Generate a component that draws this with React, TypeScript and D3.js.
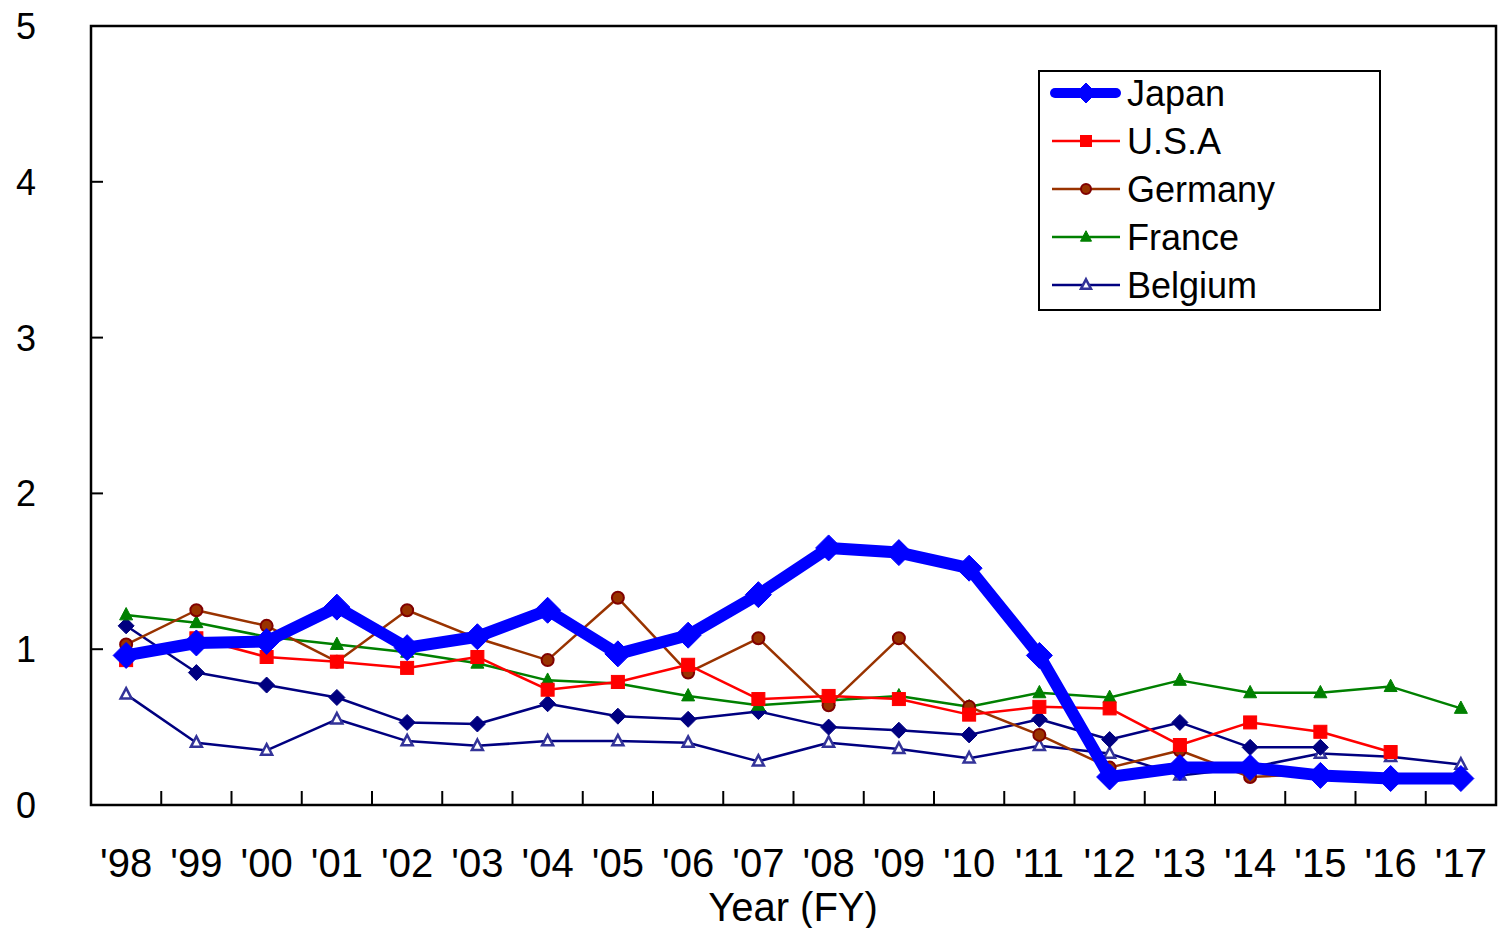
import React from "react";
import * as d3 from "d3";

const years = ["'98","'99","'00","'01","'02","'03","'04","'05","'06","'07","'08","'09","'10","'11","'12","'13","'14","'15","'16","'17"];
const yTicks = [0, 1, 2, 3, 4, 5];

const japan = [0.96, 1.04, 1.05, 1.27, 1.01, 1.08, 1.25, 0.97, 1.09, 1.35, 1.65, 1.62, 1.52, 0.96, 0.18, 0.24, 0.24, 0.19, 0.17, 0.17];
const usa = [0.93, 1.07, 0.95, 0.92, 0.88, 0.95, 0.74, 0.79, 0.9, 0.68, 0.7, 0.68, 0.58, 0.63, 0.62, 0.385, 0.53, 0.47, 0.34, null];
const germany = [1.03, 1.25, 1.15, 0.92, 1.25, 1.07, 0.93, 1.33, 0.85, 1.07, 0.64, 1.07, 0.63, 0.45, 0.24, 0.35, 0.18, 0.2, null, null];
const france = [1.22, 1.17, 1.08, 1.03, 0.98, 0.91, 0.8, 0.78, 0.7, 0.64, 0.67, 0.7, 0.63, 0.72, 0.69, 0.8, 0.72, 0.72, 0.76, 0.62];
const other = [1.15, 0.85, 0.77, 0.69, 0.53, 0.52, 0.65, 0.57, 0.55, 0.6, 0.5, 0.48, 0.45, 0.55, 0.42, 0.53, 0.37, 0.37, null, null];
const belgium = [0.71, 0.4, 0.35, 0.55, 0.41, 0.38, 0.41, 0.41, 0.4, 0.28, 0.4, 0.36, 0.3, 0.38, 0.33, 0.19, 0.24, 0.33, 0.31, 0.26];

type Marker = "diamond" | "square" | "circle" | "triangle" | "openTriangle";
interface Series { name: string | null; values: (number | null)[]; color: string; width: number; marker: Marker; size: number; fill: string; stroke: string; }

const series: Series[] = [
  { name: "Belgium", values: belgium, color: "#000080", width: 2.5, marker: "openTriangle", size: 11, fill: "#ffffff", stroke: "#333399" },
  { name: null, values: other, color: "#000080", width: 2.5, marker: "diamond", size: 8, fill: "#000080", stroke: "#000080" },
  { name: "France", values: france, color: "#008000", width: 2.5, marker: "triangle", size: 13, fill: "#008000", stroke: "#008000" },
  { name: "Germany", values: germany, color: "#993300", width: 2.5, marker: "circle", size: 6, fill: "#993300", stroke: "#800000" },
  { name: "U.S.A", values: usa, color: "#ff0000", width: 2.5, marker: "square", size: 13, fill: "#ff0000", stroke: "#ff0000" },
  { name: "Japan", values: japan, color: "#0000ff", width: 12, marker: "diamond", size: 13, fill: "#0000ff", stroke: "#0000ff" },
];

const legendOrder = ["Japan", "U.S.A", "Germany", "France", "Belgium"];

const W = 1498, H = 928;
const L = 91, R = 1496, T = 26, B = 805;

function markerEl(m: Marker, cx: number, cy: number, s: number, fill: string, stroke: string, key: string) {
  if (m === "diamond") {
    return <path key={key} d={`M${cx},${cy - s}L${cx + s},${cy}L${cx},${cy + s}L${cx - s},${cy}Z`} fill={fill} stroke={stroke} strokeWidth={1} />;
  }
  if (m === "square") {
    return <rect key={key} x={cx - s / 2} y={cy - s / 2} width={s} height={s} fill={fill} stroke={stroke} />;
  }
  if (m === "circle") {
    return <circle key={key} cx={cx} cy={cy} r={s} fill={fill} stroke={stroke} strokeWidth={2} />;
  }
  const h = s * 0.95;
  const d = `M${cx},${cy - h * 0.6}L${cx + s / 2},${cy + h * 0.4}L${cx - s / 2},${cy + h * 0.4}Z`;
  if (m === "openTriangle") {
    return <path key={key} d={d} fill={fill} stroke={stroke} strokeWidth={2.5} />;
  }
  return <path key={key} d={d} fill={fill} stroke={stroke} strokeWidth={1} />;
}

export default function App() {
  const x = d3.scaleBand<string>().domain(years).range([L, R]);
  const y = d3.scaleLinear().domain([0, 5]).range([B, T]);
  const cx = (i: number) => (x(years[i]) as number) + x.bandwidth() / 2;
  const font = "'Liberation Sans', Arial, sans-serif";

  const line = d3.line<number | null>()
    .defined((d) => d !== null)
    .x((_, i) => cx(i))
    .y((d) => y(d as number));

  const legendX = 1039, legendY = 71, legendW = 341, legendH = 239, rowH = 48;

  return (
    <svg width={W} height={H} style={{ position: "absolute", left: 0, top: 0 }} fontFamily={font}>
      <rect x={0} y={0} width={W} height={H} fill="#fff" />
      {yTicks.map((t) => (
        <g key={"yt" + t}>
          {t > 0 && t < 5 && <line x1={L} x2={L + 12} y1={y(t)} y2={y(t)} stroke="#000" strokeWidth={2} />}
          <text x={36} y={y(t)} dy="0.36em" textAnchor="end" fontSize={36}>{t}</text>
        </g>
      ))}
      {years.map((yr, i) =>
        i > 0 ? <line key={"xt" + i} x1={x(yr)} x2={x(yr)} y1={B} y2={B - 14} stroke="#000" strokeWidth={2} /> : null
      )}
      {years.map((yr, i) => (
        <text key={"xl" + i} x={cx(i)} y={877} textAnchor="middle" fontSize={40}>{yr}</text>
      ))}
      <text x={793} y={921} textAnchor="middle" fontSize={40}>Year (FY)</text>

      {series.map((s) => (
        <g key={"s" + (s.name ?? "other")}>
          <path d={line(s.values) || ""} fill="none" stroke={s.color} strokeWidth={s.width} strokeLinejoin="round" />
          {s.values.map((v, i) => v === null ? null : markerEl(s.marker, cx(i), y(v), s.size, s.fill, s.stroke, "m" + i))}
        </g>
      ))}

      <rect x={L} y={T} width={R - L} height={B - T} fill="none" stroke="#000" strokeWidth={2.5} />

      <rect x={legendX} y={legendY} width={legendW} height={legendH} fill="#fff" stroke="#000" strokeWidth={2} />
      {legendOrder.map((n, k) => {
        const s = series.find((q) => q.name === n)!;
        const ly = legendY + 22 + k * rowH;
        const isJ = n === "Japan";
        return (
          <g key={"lg" + n}>
            <line x1={isJ ? 1055 : 1052} x2={isJ ? 1116 : 1120} y1={ly} y2={ly} stroke={s.color} strokeWidth={isJ ? 10 : 2.5} strokeLinecap={isJ ? "round" : "butt"} />
            {markerEl(s.marker, 1086, ly, isJ ? 10 : s.marker === "circle" ? 5 : s.marker === "openTriangle" ? 10 : 11, s.fill, s.stroke, "lm" + n)}
            <text x={1127} y={ly} dy="0.36em" fontSize={36}>{n}</text>
          </g>
        );
      })}
    </svg>
  );
}
